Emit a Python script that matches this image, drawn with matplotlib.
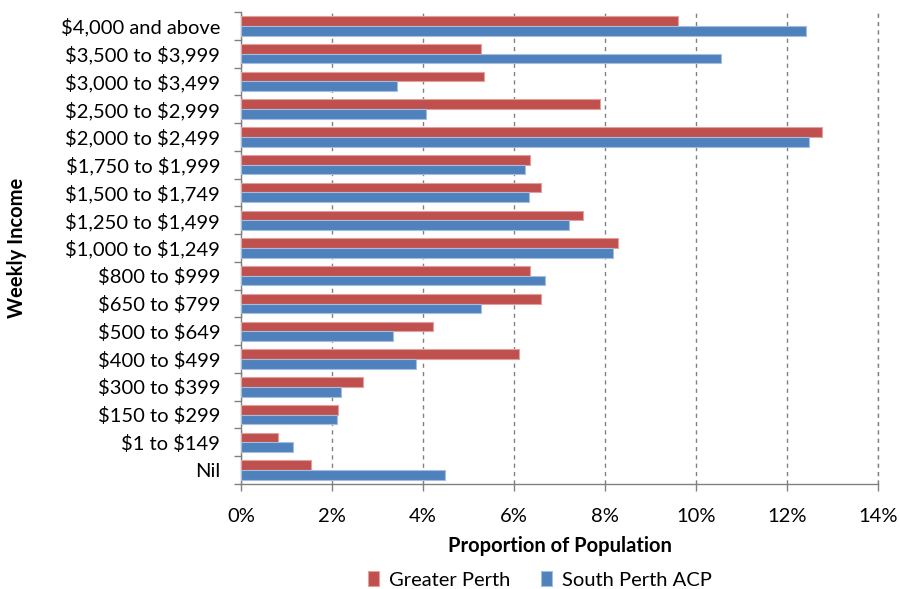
import matplotlib
matplotlib.use("Agg")
import matplotlib.pyplot as plt
import numpy as np
from matplotlib.ticker import FuncFormatter, MultipleLocator

plt.rcParams['font.family'] = ['Lato', 'DejaVu Sans']
plt.rcParams['text.parse_math'] = False

categories = ["$4,000 and above", "$3,500 to $3,999", "$3,000 to $3,499",
              "$2,500 to $2,999", "$2,000 to $2,499", "$1,750 to $1,999",
              "$1,500 to $1,749", "$1,250 to $1,499", "$1,000 to $1,249",
              "$800 to $999", "$650 to $799", "$500 to $649", "$400 to $499",
              "$300 to $399", "$150 to $299", "$1 to $149", "Nil"]
greater_perth = [9.60, 5.27, 5.34, 7.89, 12.76, 6.35, 6.59, 7.52, 8.29,
                 6.35, 6.59, 4.22, 6.10, 2.68, 2.13, 0.82, 1.53]
south_perth = [12.41, 10.56, 3.43, 4.07, 12.49, 6.24, 6.33, 7.21, 8.18,
               6.68, 5.27, 3.33, 3.85, 2.19, 2.11, 1.15, 4.48]

red = "#C0504D"
blue = "#4F81BD"
fs = 14.5

fig = plt.figure(figsize=(9.0, 5.89), dpi=100)
ax = fig.add_axes([241/900, 1 - 484/589, (878-241)/900, (484-12)/589])

n = len(categories)
y = np.arange(n)[::-1].astype(float)
h = 0.35
ax.barh(y + h/2, greater_perth, height=h, color=red, edgecolor="#E0A09E",
        linewidth=0.8, label="Greater Perth", zorder=3)
ax.barh(y - h/2, south_perth, height=h, color=blue, edgecolor="#A5BEDF",
        linewidth=0.8, label="South Perth ACP", zorder=3)

ax.set_xlim(0, 14)
ax.set_ylim(-0.5, n - 0.5)
ax.xaxis.set_major_locator(MultipleLocator(2))
ax.xaxis.set_major_formatter(FuncFormatter(lambda v, p: f"{v:.0f}%"))
ax.grid(axis="x", color="#808080", linestyle=(0, (3, 3)), linewidth=1.0, zorder=0)
ax.axvline(14, color="#808080", linestyle=(0, (3, 3)), linewidth=1.0, zorder=0, clip_on=False)

ax.set_yticks(y)
ax.set_yticklabels(categories)
ax.set_yticks(np.arange(-0.5, n, 1.0), minor=True)
ax.tick_params(axis="y", which="major", length=0, pad=15, labelsize=fs, labelcolor="black")
ax.tick_params(axis="y", which="minor", length=5, color="#808080", width=1)
ax.tick_params(axis="x", which="major", length=5, color="#808080", width=1,
               labelsize=fs, pad=12, direction="out")

for side in ["top", "right"]:
    ax.spines[side].set_visible(False)
for side in ["left", "bottom"]:
    ax.spines[side].set_color("#808080")
    ax.spines[side].set_linewidth(1.0)

ax.set_xlabel("Proportion of Population", fontsize=fs, fontweight="bold", labelpad=8)
ax.set_ylabel("Weekly Income", fontsize=fs, fontweight="bold", labelpad=24)

fig.legend(loc="lower center", ncol=2, frameon=False, fontsize=fs,
           bbox_to_anchor=(0.6, -0.03), handlelength=0.55, handleheight=0.7,
           columnspacing=1.5, handletextpad=0.5)

fig.savefig("out.png", dpi=100)
